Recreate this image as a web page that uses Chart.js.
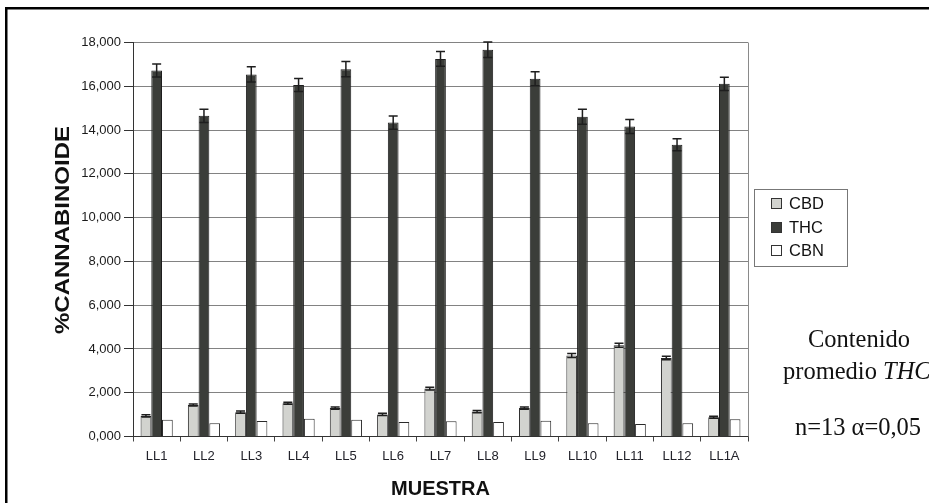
<!DOCTYPE html>
<html>
<head>
<meta charset="utf-8">
<title>Contenido de cannabinoides por muestra</title>
<script src="https://cdn.jsdelivr.net/npm/chart.js@4.4.1/dist/chart.umd.min.js"></script>
<style>
  html, body { margin: 0; padding: 0; background: #fff; }
  #wrap { position: relative; width: 929px; height: 503px; }
</style>
</head>
<body>
<div id="wrap"><canvas id="cannabinoidesChart"></canvas></div>
<script>
// muestras y porcentajes medios de cada cannabinoide
var muestras = ['LL1', 'LL2', 'LL3', 'LL4', 'LL5', 'LL6', 'LL7', 'LL8', 'LL9', 'LL10', 'LL11', 'LL12', 'LL1A'];
var cbd    = [0.94, 1.44, 1.11, 1.52, 1.30, 1.01, 2.19, 1.14, 1.30, 3.70, 4.17, 3.59, 0.88];
var cbdErr = [0.05, 0.05, 0.05, 0.05, 0.05, 0.05, 0.06, 0.05, 0.05, 0.09, 0.09, 0.08, 0.05];
var thc    = [16.72, 14.65, 16.54, 16.06, 16.78, 14.34, 17.25, 17.67, 16.34, 14.61, 14.16, 13.33, 16.11];
var thcErr = [0.30, 0.30, 0.35, 0.30, 0.35, 0.30, 0.34, 0.35, 0.32, 0.34, 0.32, 0.27, 0.30];
var cbn    = [0.76, 0.60, 0.71, 0.81, 0.77, 0.66, 0.70, 0.66, 0.72, 0.60, 0.57, 0.60, 0.79];
var yTicks = { min: 0, max: 18, step: 2 };

var SANS = '"Liberation Sans", Arial, sans-serif';
var SERIF = '"Liberation Serif", "Times New Roman", serif';

// barras de error (desviación) sobre cada barra
var errorBars = {
  id: 'errorBars',
  afterDatasetsDraw: function (chart) {
    var ctx = chart.ctx, y = chart.scales.y;
    chart.data.datasets.forEach(function (ds, di) {
      if (!ds.errors) return;
      var meta = chart.getDatasetMeta(di);
      ctx.save();
      ctx.strokeStyle = '#1e1e1e';
      ctx.lineWidth = 1.5;
      meta.data.forEach(function (bar, i) {
        var v = ds.data[i], e = ds.errors[i];
        var top = y.getPixelForValue(v + e), bot = y.getPixelForValue(v - e);
        var half = 4.5;
        ctx.beginPath();
        ctx.moveTo(bar.x, top); ctx.lineTo(bar.x, bot);
        ctx.moveTo(bar.x - half, top); ctx.lineTo(bar.x + half, top);
        ctx.moveTo(bar.x - half, bot); ctx.lineTo(bar.x + half, bot);
        ctx.stroke();
      });
      ctx.restore();
    });
  }
};

// marco, borde derecho, título del eje Y, leyenda y nota lateral
var decor = {
  id: 'decor',
  afterDraw: function (chart) {
    var ctx = chart.ctx, a = chart.chartArea;
    ctx.save();

    ctx.fillStyle = '#000';
    ctx.fillRect(5, 7, 924, 2.5);
    ctx.fillRect(5, 7, 2.5, 496);

    ctx.strokeStyle = '#8a8a8a';
    ctx.lineWidth = 1;
    ctx.beginPath();
    ctx.moveTo(Math.round(a.right) + 0.5, a.top);
    ctx.lineTo(Math.round(a.right) + 0.5, a.bottom);
    ctx.stroke();

    // título del eje Y
    ctx.save();
    ctx.translate(63, 230);
    ctx.rotate(-Math.PI / 2);
    ctx.scale(1.2, 1);
    ctx.font = 'bold 20px ' + SANS;
    ctx.fillStyle = '#111';
    ctx.textAlign = 'center';
    ctx.textBaseline = 'middle';
    ctx.fillText('%CANNABINOIDE', 0, 0);
    ctx.restore();

    // leyenda
    ctx.strokeStyle = '#777';
    ctx.strokeRect(754.5, 189.5, 93, 77);
    ctx.font = '16.5px ' + SANS;
    ctx.textBaseline = 'middle';
    ctx.textAlign = 'left';
    var rowY = [203, 227, 250];
    chart.data.datasets.forEach(function (ds, i) {
      ctx.fillStyle = ds.backgroundColor;
      ctx.fillRect(771, rowY[i] - 5, 10, 10);
      ctx.strokeStyle = '#333';
      ctx.strokeRect(771.5, rowY[i] - 4.5, 10, 10);
      ctx.fillStyle = '#111';
      ctx.fillText(ds.label, 789, rowY[i] + 1);
    });

    // nota lateral
    ctx.fillStyle = '#111';
    ctx.textBaseline = 'alphabetic';
    ctx.textAlign = 'center';
    ctx.font = '24.5px ' + SERIF;
    ctx.fillText('Contenido', 859, 347);
    ctx.fillText('n=13 \u03b1=0,05', 858, 435);
    ctx.textAlign = 'left';
    var w1 = ctx.measureText('promedio ').width;
    ctx.fillText('promedio ', 783, 379);
    ctx.font = 'italic 24.5px ' + SERIF;
    ctx.fillText('THC', 783 + w1, 379);

    ctx.restore();
  }
};

new Chart(document.getElementById('cannabinoidesChart').getContext('2d'), {
  type: 'bar',
  data: {
    labels: muestras,
    datasets: [
      { label: 'CBD', data: cbd, errors: cbdErr, backgroundColor: '#d2d3cf', borderColor: '#2a2a2a', borderWidth: 1 },
      { label: 'THC', data: thc, errors: thcErr, backgroundColor: '#3b3d39', borderColor: '#1e1e1e', borderWidth: 1 },
      { label: 'CBN', data: cbn, backgroundColor: '#ffffff', borderColor: '#2a2a2a', borderWidth: 1 }
    ]
  },
  options: {
    responsive: true,
    maintainAspectRatio: false,
    animation: false,
    layout: { padding: { left: 40, right: 181, top: 42.5, bottom: 0 } },
    datasets: { bar: { categoryPercentage: 0.68, barPercentage: 1.0 } },
    plugins: { legend: { display: false }, tooltip: { enabled: false } },
    scales: {
      x: {
        afterFit: function (s) { s.height = 66.5; },
        grid: { display: true, drawOnChartArea: false, drawTicks: true, tickLength: 5, tickColor: '#444', offset: true },
        border: { color: '#333', width: 1 },
        ticks: { color: '#23232b', padding: 7, font: { family: SANS, size: 13 } },
        title: { display: true, text: 'MUESTRA', color: '#111', padding: { top: 0, bottom: 2 }, font: { family: SANS, size: 20, weight: 'bold' } }
      },
      y: {
        min: yTicks.min,
        max: yTicks.max,
        afterFit: function (s) { s.width = 93; },
        grid: { color: '#828282', lineWidth: 1, tickLength: 9, tickColor: '#333' },
        border: { color: '#333', width: 1 },
        ticks: {
          stepSize: yTicks.step,
          color: '#1a1a1a',
          padding: 3,
          font: { family: SANS, size: 13 },
          callback: function (v) { return v.toFixed(3).replace('.', ','); }
        }
      }
    }
  },
  plugins: [errorBars, decor]
});
</script>
</body>
</html>
